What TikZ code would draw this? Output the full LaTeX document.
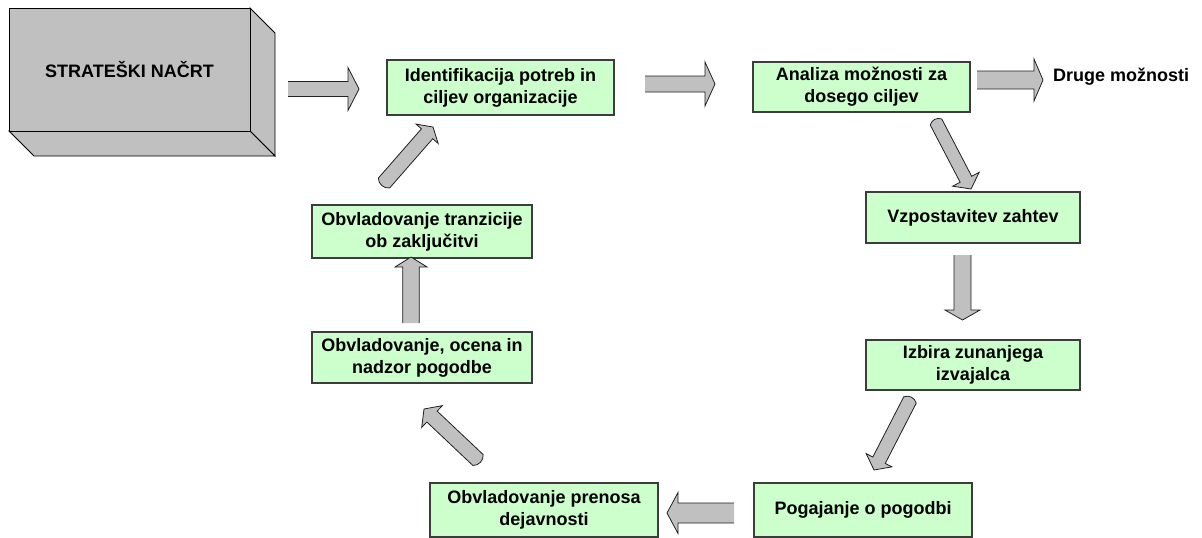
\documentclass[tikz,border=0pt]{standalone}
\usepackage{fontspec}
\setmainfont{Liberation Sans}
\usetikzlibrary{calc}

\definecolor{boxgreen}{HTML}{CCFFCC}
\definecolor{boxedge}{HTML}{3C3C3C}
\definecolor{arrowfill}{HTML}{C0C0C0}
\definecolor{arrowedge}{HTML}{202020}
\definecolor{slabgray}{HTML}{C0C0C0}

% Block arrow with an open (unoutlined) tail:
% #1 tail, #2 tip, #3 half shaft width, #4 half head width, #5 head length (all pt)
\newcommand{\blockarrow}[5]{%
  \coordinate (ba-h) at ($(#2)!#5pt!(#1)$);
  \coordinate (ba-l1) at ($(#1)!#3pt!90:(#2)$);
  \coordinate (ba-r1) at ($(#1)!#3pt!-90:(#2)$);
  \coordinate (ba-l2) at ($(ba-h)!#3pt!90:(#2)$);
  \coordinate (ba-r2) at ($(ba-h)!#3pt!-90:(#2)$);
  \coordinate (ba-l3) at ($(ba-h)!#4pt!90:(#2)$);
  \coordinate (ba-r3) at ($(ba-h)!#4pt!-90:(#2)$);
  \fill[arrowfill] (ba-r1) -- (ba-l1) -- (ba-l2) -- (ba-l3) -- (#2)
    -- (ba-r3) -- (ba-r2) -- cycle;
  \draw[arrowline] (ba-l1) -- (ba-l2) -- (ba-l3) -- (#2)
    -- (ba-r3) -- (ba-r2) -- (ba-r1);
}
% Block arrow with a rounded, outlined tail
\newcommand{\bentarrow}[6]{%
  \coordinate (ba-h) at ($(#2)!#5pt!(#1)$);
  \coordinate (ba-l1) at ($(#1)!#3pt!90:(#2)$);
  \coordinate (ba-r1) at ($(#1)!#3pt!-90:(#2)$);
  \coordinate (ba-l2) at ($(ba-h)!#3pt!90:(#2)$);
  \coordinate (ba-r2) at ($(ba-h)!#3pt!-90:(#2)$);
  \coordinate (ba-l3) at ($(ba-h)!#4pt!90:(#2)$);
  \coordinate (ba-r3) at ($(ba-h)!#4pt!-90:(#2)$);
  \filldraw[arrowline, fill=arrowfill] (ba-r1) to[#6] (ba-l1) -- (ba-l2)
    -- (ba-l3) -- (#2) -- (ba-r3) -- (ba-r2) -- cycle;
}

\tikzset{
  arrowline/.style={draw=arrowedge, line width=0.8pt, line join=miter},
  greenbox/.style={draw=boxedge, line width=1.1pt, fill=boxgreen,
    align=center, inner sep=0pt, font=\fontsize{18}{22}\selectfont\bfseries},
  slab/.style={draw=black, line width=0.9pt, fill=slabgray},
  plainlabel/.style={inner sep=0pt, font=\fontsize{18}{22}\selectfont\bfseries}
}

\begin{document}
\begin{tikzpicture}[x=1pt, y=-1pt]
\useasboundingbox (0,0) rectangle (1202,538);

% three-dimensional slab for the strategic plan
\coordinate (plan-nw) at (9,8);
\coordinate (plan-se) at (250,131);
\draw[slab] (250,8) -- ++(25,25) -- (275,156) -- (250,131) -- cycle;
\draw[slab] (9,131) -- (250,131) -- (275,156) -- (34,156) -- cycle;
\node[slab, minimum width=241, minimum height=123, inner sep=0pt,
      font=\fontsize{18}{22}\selectfont\bfseries] (plan) at (129.5,69.5)
  {\raisebox{-1.5pt}{STRATEŠKI NAČRT}};

% process steps
\node[greenbox, minimum width=227, minimum height=55] (need)   at (500.5,87.5) {Identifikacija potreb in\\ciljev organizacije};
\node[greenbox, minimum width=217, minimum height=50] (anal)   at (861.5,87)   {Analiza možnosti za\\dosego ciljev};
\node[plainlabel, anchor=west]                        (other)  at (1053,77)    {Druge možnosti};
\node[greenbox, minimum width=214, minimum height=51] (req)    at (973,217.5)  {Vzpostavitev zahtev};
\node[greenbox, minimum width=214, minimum height=50] (pick)   at (973,365)    {Izbira zunanjega\\izvajalca};
\node[greenbox, minimum width=218, minimum height=54] (deal)   at (863,510)    {Pogajanje o pogodbi};
\node[greenbox, minimum width=228, minimum height=54] (move)   at (544,510)    {Obvladovanje prenosa\\dejavnosti};
\node[greenbox, minimum width=220, minimum height=51] (watch)  at (422,357.5)  {Obvladovanje, ocena in\\nadzor pogodbe};
\node[greenbox, minimum width=220, minimum height=53] (close)  at (422,231.5)  {Obvladovanje tranzicije\\ob zaključitvi};

% arrow end points
\coordinate (a1s) at (288,89);   \coordinate (a1e) at (359,89);
\coordinate (a2s) at (645,84);   \coordinate (a2e) at (715,84);
\coordinate (a3s) at (977,80);   \coordinate (a3e) at (1043,80);
\coordinate (a4s) at (936,122);  \coordinate (a4e) at (971,189);
\coordinate (a5s) at (962.5,255);\coordinate (a5e) at (962.5,320);
\coordinate (a6s) at (910,400);  \coordinate (a6e) at (874,470);
\coordinate (a7s) at (734,513);  \coordinate (a7e) at (667,513);
\coordinate (a8s) at (478,460);  \coordinate (a8e) at (424,409);
\coordinate (a9s) at (411,323);  \coordinate (a9e) at (411,257);
\coordinate (a10s) at (384,183); \coordinate (a10e) at (433,127);

% connectors
\blockarrow{a1s}{a1e}{7.5}{21.5}{11}
\blockarrow{a2s}{a2e}{8}{22}{10}
\blockarrow{a3s}{a3e}{9}{21}{9}
\bentarrow{a4s}{a4e}{6.5}{15}{11}{bend left=50}
\blockarrow{a5s}{a5e}{8.5}{17.5}{10}
\bentarrow{a6s}{a6e}{7}{14.5}{11}{bend left=50}
\blockarrow{a7s}{a7e}{10}{20.5}{11}
\bentarrow{a8s}{a8e}{7.5}{15}{11}{bend left=50}
\blockarrow{a9s}{a9e}{8.3}{16}{10}
\bentarrow{a10s}{a10e}{7.5}{14.7}{9}{bend left=50}
\end{tikzpicture}
\end{document}
